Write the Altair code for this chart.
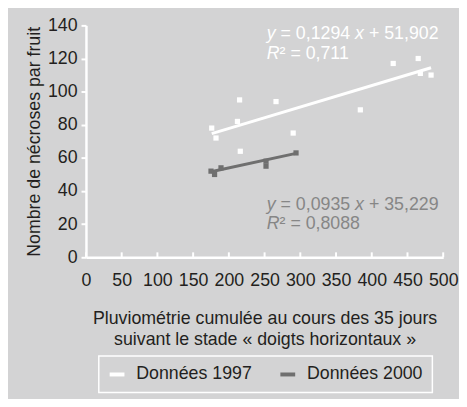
import altair as alt
import pandas as pd

# ---- data ----
x_1997 = [176, 182, 215, 212, 216, 266, 290, 384, 430, 465, 468, 483]
y_1997 = [78, 72, 95, 82, 64, 94, 75, 89, 117, 120, 111, 110]
x_2000 = [175, 180, 189, 252, 252, 294]
y_2000 = [52, 50, 54, 58, 55, 63]

series = ["Données 1997", "Données 2000"]
slopes = [0.1294, 0.0935]
intercepts = [51.902, 35.229]
eq_lines = [["y", " = 0,1294 ", "x", " + 51,902"], ["y", " = 0,0935 ", "x", " + 35,229"]]
r2_lines = ["R² = 0,711", "R² = 0,8088"]
eq_anchor_x = [253, 253]
eq_anchor_y = [[131.5, 119.5], [28.8, 16.9]]

x_ticks = list(range(0, 501, 50))
y_ticks = list(range(0, 141, 20))

BG = "#d3d3d4"
TXT = "#231f20"
C97 = "#ffffff"
C00 = "#6f6f6f"
TXT00 = "#868686"
FONT = "Liberation Sans"
FS = 18
W, H = 362, 235

# ---- tables ----
pts = pd.DataFrame({
    "x": x_1997 + x_2000,
    "y": y_1997 + y_2000,
    "s": [series[0]] * len(x_1997) + [series[1]] * len(x_2000),
})

line_rows = []
for s, xs, a, b in zip(series, [x_1997, x_2000], slopes, intercepts):
    for xv in (min(xs), max(xs)):
        line_rows.append({"x": xv, "y": a * xv + b, "s": s})
lines = pd.DataFrame(line_rows)

# character widths (em) for Arial-metric font to place italic pieces
cw = {" ": 0.278, "=": 0.584, "+": 0.584, ",": 0.278, "y": 0.5, "x": 0.5, "R": 0.722, "²": 0.333}
def width_px(t):
    return sum(cw.get(c, 0.556) for c in t) * FS

txt_rows = []
for i, s in enumerate(series):
    col = C97 if i == 0 else TXT00
    x0 = eq_anchor_x[i]
    off = 0.0
    for piece in eq_lines[i]:
        lead = len(piece) - len(piece.lstrip(" "))
        start = off + lead * cw[" "] * FS
        txt_rows.append({"x": x0 + start * 500 / W, "y": eq_anchor_y[i][0], "t": piece.strip(),
                         "it": piece in ("y", "x"), "c": col})
        off += width_px(piece)
    r2 = r2_lines[i]
    txt_rows.append({"x": x0, "y": eq_anchor_y[i][1], "t": "R", "it": True, "c": col})
    txt_rows.append({"x": x0 + width_px("R") * 500 / W, "y": eq_anchor_y[i][1], "t": r2[1:],
                     "it": False, "c": col})
texts = pd.DataFrame(txt_rows)
ticks_df = pd.DataFrame({"x": x_ticks})

xscale = alt.Scale(domain=[0, 500], nice=False)
yscale = alt.Scale(domain=[0, 140], nice=False)
xaxis = alt.Axis(
    values=x_ticks, title=["Pluviométrie cumulée au cours des 35 jours",
                           "suivant le stade « doigts horizontaux »"],
    ticks=False, labelPadding=15, titlePadding=20, labelOverlap=False, labelFlush=False)
yaxis = alt.Axis(
    values=y_ticks, title="Nombre de nécroses par fruit", labelPadding=4, titlePadding=4,
    labelOverlap=False, labelFlush=False)
xenc = alt.X("x:Q", scale=xscale, axis=xaxis)
yenc = alt.Y("y:Q", scale=yscale, axis=yaxis)

color_scale = alt.Scale(domain=series, range=[C97, C00])

tick_layer = alt.Chart(ticks_df).mark_rule(color="white", strokeWidth=2).encode(
    x=xenc, y=alt.value(H), y2=alt.value(H - 5))

line_layer = alt.Chart(lines).mark_line(strokeWidth=3).encode(
    x=xenc, y=yenc,
    color=alt.Color("s:N", scale=color_scale, title=None,
                    legend=alt.Legend(orient="none", legendX=13, legendY=335,
                                      direction="horizontal")),
)
pt_layer = alt.Chart(pts).mark_square(size=28, opacity=1).encode(
    x=xenc, y=yenc,
    fill=alt.Fill("s:N", scale=color_scale, legend=None),
)

txt_normal = alt.Chart(texts).transform_filter("!datum.it").mark_text(
    align="left", baseline="alphabetic", font=FONT, fontSize=FS).encode(
    x=xenc, y=yenc, text="t:N", color=alt.Color("c:N", scale=None))
txt_it = alt.Chart(texts).transform_filter("datum.it").mark_text(
    align="left", baseline="alphabetic", font=FONT, fontSize=FS, fontStyle="italic").encode(
    x=xenc, y=yenc, text="t:N", color=alt.Color("c:N", scale=None))

chart = alt.layer(tick_layer, line_layer, pt_layer, txt_normal, txt_it).properties(
    width=W, height=H,
    autosize=alt.AutoSizeParams(type="none"),
    padding={"left": 79, "top": 15, "right": 16, "bottom": 141},
    background=BG,
).configure_view(strokeWidth=0, fill=BG).configure_axis(
    grid=False, domainColor="white", domainWidth=2.5, tickColor="white", tickWidth=2,
    tickSize=5, labelFont=FONT, labelFontSize=FS, labelColor=TXT,
    titleFont=FONT, titleFontSize=FS, titleColor=TXT, titleFontWeight="normal",
    titleLineHeight=21,
).configure_legend(
    labelFont=FONT, labelFontSize=FS, labelColor=TXT, symbolType="stroke",
    symbolStrokeWidth=4, symbolSize=225, strokeColor="white", strokeWidth=1.5,
    padding=9, columnPadding=20, labelOffset=10,
)

chart.save("out.html", embed_options={"renderer": "svg", "actions": False})
